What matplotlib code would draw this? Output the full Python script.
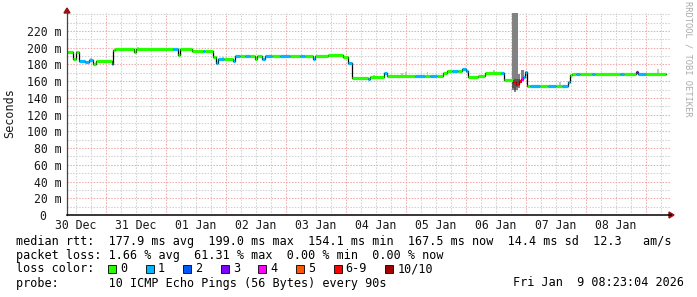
import numpy as np
import pandas as pd
import matplotlib
matplotlib.use('Agg')
import matplotlib.pyplot as plt
import matplotlib.dates as mdates
from matplotlib.patches import Rectangle, Polygon
from matplotlib.lines import Line2D

# ---- data ----
start = pd.Timestamp('2025-12-30 08:24')
end_hour = 239.6  # hours after start, last sample

# median rtt steps: start hour, value in ms, lost pings (out of 10)
seg_hours = [0, 2.4, 3.4, 4.8, 7.2, 8.8, 10.4, 11.6, 18, 18.4, 19.2, 26.8, 27.4, 42.4, 44.4,
             45.2, 50, 54.4, 55.2, 58.4, 59.6, 60.4, 62.8, 66.4, 67.2, 69.2, 71.2, 73.2, 75.2,
             76, 78, 79.2, 82, 85.2, 89.2, 93.2, 95.2, 98.4, 99.2, 104.4, 110.4, 112.4, 114,
             120.4, 121.2, 126.8, 128, 139.2, 143.2, 145.2, 148, 150.4, 152, 154, 156.4, 158,
             159.6, 160.4, 164.4, 167.2, 173.6, 174.8, 178.4, 179.6, 180.8, 181.6, 182.4, 183.2,
             184, 185.2, 189.2, 192.4, 195.6, 198, 200.4, 201.2, 202, 203.6, 205.2, 210, 211.2,
             221.2, 222.8, 227.6, 228.4, 231.6]
seg_ms = [195, 187, 195, 184, 183.5, 185.5, 181, 184, 181, 197, 199, 195, 199, 199, 191,
          199, 196.5, 196.5, 196.5, 189, 182, 186, 186, 184, 190.5, 190.5, 190.5, 190.5, 186.5,
          190, 186.5, 190.3, 190.3, 190.3, 190.3, 190.3, 190.3, 186.5, 190.3, 191.3, 189, 181.3, 163.8,
          162.2, 164.5, 169.4, 166.2, 166.2, 166.2, 166.2, 166.2, 169.4, 172.6, 172.6, 172.6, 174.5,
          172, 164.5, 166, 169.4, 169.4, 161.4, 159.4, 157, 160, 163, 165, 171,
          154.2, 154.2, 154.2, 154.2, 154.2, 154.2, 159.4, 167.4, 168.2, 168.2, 168.2, 168.2, 168.2,
          168.2, 168.2, 171, 168.2, 168.2]
seg_loss = [0, 0, 0, 1, 1, 1, 0, 0, 1, 0, 0, 0, 0, 1, 0,
            0, 0, 1, 0, 0, 1, 1, 0, 1, 1, 0, 1, 0, 0,
            0, 1, 1, 0, 1, 0, 1, 0, 1, 0, 0, 0, 1, 0,
            1, 0, 1, 0, 1, 0, 1, 0, 0, 0, 1, 0, 1,
            1, 0, 0, 0, 1, 0, 7, 7, 7, 4, 1, 1,
            0, 1, 0, 1, 0, 1, 1, 0, 0, 1, 0, 1, 0,
            1, 0, 3, 1, 0]

# smoke (spread of the 10 pings)
smoke_hours = [9.2, 122.4, 133.6, 135.2, 144, 170.4, 196.8, 236, 62.0, 28.0]
smoke_lo = [184, 163, 166, 166, 166, 169, 154, 168, 186, 199]
smoke_hi = [188, 167, 170, 171.5, 170.5, 173, 159, 174, 189, 201]

spike_hours = [177.8, 178.6, 179.4, 180.2, 181.6]
spike_lo = [149, 147, 150, 152, 160]
spike_hi = [245, 245, 245, 168, 173]
core_hours = [178.0, 178.8, 179.6, 180.4, 181.2]
core_lo = [152, 150, 153, 157, 158]
core_hi = [161, 163, 162, 162, 161]

loss_labels = ['0', '1', '2', '3', '4', '5', '6-9', '10/10']
loss_colors = ['#26ff00', '#00b8ff', '#0059ff', '#7e00ff', '#ff00ff', '#ff5500', '#ff0000', '#a10000']

y_ticks = [0, 20, 40, 60, 80, 100, 120, 140, 160, 180, 200, 220]
day_labels = ['30 Dec', '31 Dec', '01 Jan', '02 Jan', '03 Jan', '04 Jan', '05 Jan', '06 Jan', '07 Jan', '08 Jan']

stats_rtt = 'median rtt:  177.9 ms avg  199.0 ms max  154.1 ms min  167.5 ms now  14.4 ms sd  12.3   am/s'
stats_loss = 'packet loss: 1.66 % avg  61.31 % max  0.00 % min  0.00 % now'
probe_txt = 'probe:       10 ICMP Echo Pings (56 Bytes) every 90s'
stamp_txt = 'Fri Jan  9 08:23:04 2026'


def loss_color(n):
    if n >= 10:
        return loss_colors[7]
    if n >= 6:
        return loss_colors[6]
    return loss_colors[n]


def tnum(h):
    return mdates.date2num((start + pd.to_timedelta(np.asarray(h, dtype=float), unit='h')).to_pydatetime())


W, H = 697, 297
mono = 'DejaVu Sans Mono'
fig = plt.figure(figsize=(W / 100, H / 100), dpi=100)
fig.patch.set_facecolor('white')
ax = fig.add_axes([67 / W, (H - 215) / H, 603 / W, 202 / H])
ax.set_facecolor('white')

x0 = tnum([0])[0]
x1 = tnum([603 / 2.5])[0]
ax.set_xlim(x0, x1)
ax.set_ylim(0, 241.5)

# grid
for t in pd.date_range('2025-12-30 12:00', '2026-01-09 12:00', freq='6h'):
    major = t.hour == 0
    ax.axvline(mdates.date2num(t.to_pydatetime()), color='#eeaaaa' if major else '#d0d0d0',
               lw=0.75, ls=(0, (1.4, 1.4)), zorder=0)
for v in range(10, 250, 10):
    major = v % 20 == 0 and v <= 220
    ax.axhline(v, color='#eeaaaa' if major else '#d0d0d0', lw=0.75, ls=(0, (1.4, 1.4)), zorder=0)

# smoke
w1 = 1.0 / 24
ax.bar(tnum(smoke_hours), np.array(smoke_hi) - np.array(smoke_lo), bottom=smoke_lo,
       width=0.6 * w1, color='#c4c4c4', align='edge', zorder=1)
ax.bar(tnum(spike_hours), np.array(spike_hi) - np.array(spike_lo), bottom=spike_lo,
       width=w1, color='#828282', align='edge', zorder=1)
ax.bar(tnum(core_hours), np.array(core_hi) - np.array(core_lo), bottom=core_lo,
       width=0.85 * w1, color='#555555', align='edge', zorder=1)

# median line
hrs = seg_hours + [end_hour]
tt = tnum(hrs)
ax.step(tt, seg_ms + [seg_ms[-1]], where='post', color='black', lw=0.9, zorder=2)
ax.hlines(seg_ms, tt[:-1], tt[1:], colors=[loss_color(n) for n in seg_loss], lw=2.3, zorder=3)

# ticks
ax.set_yticks(y_ticks)
ax.set_yticklabels(['0  '] + ['%d m' % v for v in y_ticks[1:]])
noon = tnum([(i * 24 + 3.6) for i in range(len(day_labels))])
ax.set_xticks(noon)
ax.set_xticklabels(day_labels)
ax.tick_params(axis='both', length=0, labelsize=8.3, colors='#1a1a1a')
ax.tick_params(axis='y', pad=4.3)
ax.tick_params(axis='x', pad=3.2)
for lab in ax.get_xticklabels() + ax.get_yticklabels():
    lab.set_family(mono)
for s in ax.spines.values():
    s.set_visible(False)


def px(x, y):
    return x / W, 1 - y / H


# axes lines and arrows
fig.add_artist(Line2D([px(67, 0)[0], px(67, 0)[0]], [px(0, 215)[1], px(0, 12)[1]],
                      color='#444444', lw=0.9, transform=fig.transFigure))
fig.add_artist(Line2D([px(67, 0)[0], px(671, 0)[0]], [px(0, 215)[1], px(0, 215)[1]],
                      color='black', lw=1.1, transform=fig.transFigure))
fig.add_artist(Polygon([px(64, 13), px(70, 13), px(67, 8)], closed=True,
                       color='#9a1010', transform=fig.transFigure))
fig.add_artist(Polygon([px(669, 212), px(669, 218), px(674, 215)], closed=True,
                       color='#9a1010', transform=fig.transFigure))

# labels
fig.text(*px(10, 113), 'Seconds', rotation=90, ha='center', va='center',
         family=mono, fontsize=8.5, color='#1a1a1a')
fig.text(*px(688, 59), 'RRDTOOL / TOBI OETIKER', rotation=270, ha='center', va='center',
         family=mono, fontsize=6.3, color='#aaaaaa')

fig.text(*px(15.5, 241), stats_rtt, ha='left', va='center', family=mono, fontsize=8.5, color='black')
fig.text(*px(15.5, 255), stats_loss, ha='left', va='center', family=mono, fontsize=8.5, color='black')
fig.text(*px(15.5, 269), 'loss color:', ha='left', va='center', family=mono, fontsize=8.5, color='black')
fig.text(*px(15.5, 283), probe_txt, ha='left', va='center', family=mono, fontsize=8.5, color='black')
fig.text(*px(513, 283), stamp_txt, ha='left', va='center', family=mono, fontsize=8.5, color='black')

cx = 108
for lab, col in zip(loss_labels, loss_colors):
    bx, by = px(cx, 273)
    fig.add_artist(Rectangle((bx, by), 8 / W, 8 / H, facecolor=col, edgecolor='black',
                             lw=0.6, transform=fig.transFigure))
    fig.text(*px(cx + 12, 269), lab, ha='left', va='center', family=mono, fontsize=8.5, color='black')
    cx += 12 + len(lab) * 7.1 + 18.5

fig.savefig('out.png', dpi=100, facecolor='white')
